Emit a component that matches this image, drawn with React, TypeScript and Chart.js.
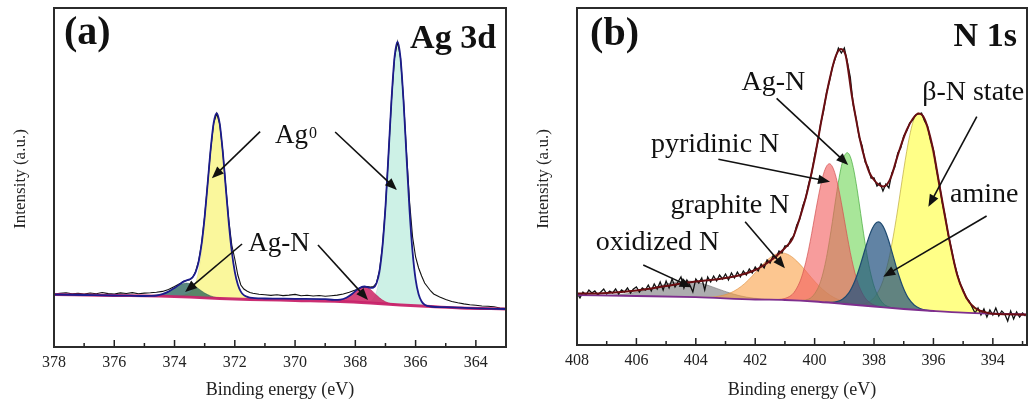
import React, { useEffect, useRef } from 'react';
import { Chart, registerables } from 'chart.js';

Chart.register(...registerables);

type Pt = [number, number];

const SERIF = '"Liberation Serif", "Times New Roman", serif';

// ================= Panel (a) : Ag 3d =================
const agRange: [number, number] = [363, 378];
const agYMax = 339;

const agBaseline: Pt[] = [
  [378, 52.5], [376, 51.5], [374.5, 50.8], [373.5, 49.8], [372.5, 48.5], [371.5, 47.5], [370, 46.5],
  [368.5, 45.5], [367.5, 44], [366.5, 42], [365.5, 40.5], [364.5, 39], [363, 38],
];

const agEnvelope: Pt[] = [
  [378, 52.5], [377, 52], [376, 51.5], [375.5, 51.3], [375, 51.0], [374.8, 51.1], [374.6, 51.5], [374.4, 52.9],
  [374.2, 55.4], [374.0, 59.1], [373.8, 63.3], [373.7, 65.4], [373.6, 66.7], [373.5, 67.6], [373.4, 69.7],
  [373.3, 75], [373.2, 85.3], [373.1, 103.5], [373.0, 130.2], [372.9, 163.8], [372.8, 198], [372.7, 224.3],
  [372.6, 233.9], [372.5, 223.1], [372.4, 195.5], [372.3, 159.7], [372.2, 124.4], [372.1, 95.5], [372.0, 75.1],
  [371.9, 62.5], [371.8, 55.4], [371.7, 51.9], [371.6, 50.4], [371.5, 49.3], [371, 48.5], [370, 48.2],
  [369, 47.8], [368.7, 47.2], [368.5, 47.4], [368.3, 49.2], [368.1, 53.2], [367.9, 58.2], [367.7, 60.5],
  [367.5, 59.1], [367.4, 59.4], [367.3, 63.5], [367.2, 75.5], [367.1, 100.3], [367.0, 139.9], [366.9, 192.1],
  [366.8, 247], [366.7, 289.4], [366.6, 305.2], [366.5, 288.7], [366.4, 245.7], [366.3, 189.8], [366.2, 136.3],
  [366.1, 94.8], [366.0, 67.6], [365.9, 52.7], [365.8, 45.5], [365.7, 42.3], [365.5, 40.5], [365, 39.8],
  [364, 38.7], [363, 38],
];

const agRaw: Pt[] = [
  [378.0, 53.0], [377.8, 53.6], [377.6, 54.2], [377.4, 53.1], [377.2, 53.8], [377.0, 52.9], [376.8, 54.0],
  [376.6, 53.2], [376.4, 54.5], [376.2, 53.4], [376.0, 53.0], [375.8, 54.1], [375.6, 53.5], [375.4, 54.4],
  [375.2, 53.2], [375.0, 53.9], [374.8, 54.2], [374.6, 54.8], [374.4, 55.6], [374.2, 57.5], [374.0, 60.5],
  [373.8, 63.8], [373.7, 65.8], [373.6, 66.5], [373.5, 67.2], [373.4, 69.5], [373.3, 75.5], [373.2, 86.0],
  [373.1, 104], [373.0, 131], [372.9, 164], [372.8, 198], [372.7, 224], [372.6, 233.5], [372.5, 223],
  [372.4, 196], [372.3, 161], [372.2, 127], [372.1, 102], [372.0, 88], [371.9, 72], [371.8, 62], [371.7, 58],
  [371.6, 56], [371.5, 54.5], [371.4, 53.8], [371.2, 52.8], [371.0, 52.2], [370.8, 51.6], [370.6, 52.3],
  [370.4, 51.4], [370.2, 51.9], [370.0, 52.6], [369.8, 51.2], [369.6, 51.7], [369.4, 51.0], [369.2, 51.5],
  [369.0, 50.8], [368.8, 51.3], [368.6, 51.9], [368.4, 53.0], [368.2, 54.8], [368.0, 57.0], [367.8, 59.5],
  [367.6, 60.5], [367.5, 60.0], [367.4, 60.5], [367.3, 64.0], [367.2, 76], [367.1, 101], [367.0, 140],
  [366.9, 192], [366.8, 247], [366.7, 289], [366.6, 305], [366.5, 289], [366.4, 247], [366.3, 194],
  [366.2, 145], [366.1, 110], [366.0, 90], [365.9, 79], [365.8, 71], [365.7, 64], [365.6, 60], [365.5, 56],
  [365.4, 53], [365.2, 50], [365.0, 47.5], [364.8, 45.5], [364.6, 44.2], [364.4, 43.1], [364.2, 42.3],
  [364.0, 41.8], [363.8, 41.0], [363.6, 40.8], [363.4, 40.2], [363.2, 39.0], [363.0, 38.5],
];

// Ag0 3d3/2 component
const agPeakAg0a: Pt[] = [
  [373.9, 50.3], [373.7, 51.8], [373.6, 52.7], [373.5, 54], [373.4, 57.2], [373.3, 64.1], [373.2, 76.4],
  [373.1, 96.6], [373.0, 125.2], [372.9, 160.3], [372.8, 195.7], [372.7, 222.9], [372.6, 233.1], [372.5, 222.7],
  [372.4, 195.3], [372.3, 159.7], [372.2, 124.4], [372.1, 95.5], [372.0, 75.1], [371.9, 62.5], [371.8, 55.4],
  [371.7, 51.9], [371.6, 50.4], [371.5, 49.3], [371.4, 47.5],
];
// Ag0 3d5/2 component
const agPeakAg0b: Pt[] = [
  [367.6, 44.3], [367.5, 45.5], [367.4, 48.3], [367.3, 55.2], [367.2, 69.7], [367.1, 96.6], [367.0, 137.7],
  [366.9, 190.9], [366.8, 246.4], [366.7, 289.1], [366.6, 305.2], [366.5, 288.7], [366.4, 245.7], [366.3, 189.8],
  [366.2, 136.3], [366.1, 94.8], [366.0, 67.6], [365.9, 52.7], [365.8, 45.5], [365.7, 42.3], [365.6, 40.8],
];
// Ag-N components
const agPeakAgNa: Pt[] = [
  [374.9, 51.0], [374.6, 51.5], [374.4, 52.9], [374.2, 55.4], [374.0, 59.1], [373.8, 62.5], [373.6, 63.9],
  [373.4, 62.1], [373.2, 58.2], [373.0, 54.0], [372.8, 51.1], [372.6, 49.4], [372.3, 48.2],
];
const agPeakAgNb: Pt[] = [
  [368.8, 45.7], [368.7, 45.8], [368.5, 46.6], [368.3, 48.9], [368.1, 53.2], [367.9, 58.2], [367.7, 60.4],
  [367.5, 57.6], [367.3, 51.9], [367.1, 46.9], [366.9, 44.0], [366.7, 42.7], [366.5, 42.1],
];

const agLabelText = ['Ag', 'Ag-N', '(a)', 'Ag 3d'];
const agLabelSup = ['0', '', '', ''];
const agLabelPos: Pt[] = [[369.97, 204], [370.53, 96], [377.67, 303], [363.33, 299]];
const agArrows: [number, number, number, number][] = [
  [371.16, 215.3, 372.76, 168.7],
  [368.67, 215, 366.62, 157],
  [371.76, 103, 373.65, 55],
  [369.24, 102, 367.58, 47],
];

// ================= Panel (b) : N 1s =================
const nRange: [number, number] = [392.85, 408];
const nYMax = 337;

const nBaseline: Pt[] = [
  [408, 50], [406, 49], [404, 47.8], [402, 45.5], [401, 45], [400, 43.5], [399, 41], [398, 38.5],
  [397, 36], [396, 34], [395, 32.3], [394, 31.3], [392.85, 30.5],
];

const nEnvelope: Pt[] = [
  [408.0, 51.5], [407.5, 51.5], [407.0, 52.0], [406.5, 53.0], [406.0, 54.5], [405.5, 56.5], [405.0, 59.0],
  [404.5, 61.5], [404.0, 63.5], [403.5, 65.0], [403.0, 67.0], [402.5, 70.0], [402.0, 75.0], [401.75, 79.0],
  [401.5, 84.0], [401.25, 90.0], [401.0, 97.0], [400.75, 106.0], [400.5, 127.0], [400.25, 153.0],
  [400.0, 187.0], [399.75, 228.0], [399.5, 265.0], [399.3, 288.0], [399.12, 296.0], [398.95, 289.0],
  [398.75, 250.0], [398.6, 225.0], [398.47, 205.0], [398.3, 185.0], [398.15, 172.0], [398.0, 165.0],
  [397.85, 160.5], [397.69, 158.5], [397.55, 161.0], [397.4, 170.0], [397.29, 181.0], [397.1, 199.0],
  [396.9, 215.0], [396.7, 226.0], [396.5, 231.5], [396.35, 229.0], [396.2, 218.0], [396.0, 194.0],
  [395.8, 160.0], [395.6, 127.0], [395.4, 96.0], [395.2, 70.0], [395.0, 54.0], [394.8, 43.0], [394.6, 37.0],
  [394.4, 34.0], [394.2, 32.3], [394.0, 31.2], [393.5, 30.8], [392.85, 30.3],
];

const nRaw: Pt[] = [
  [408.0, 52], [407.9, 47], [407.8, 53], [407.7, 50], [407.6, 55], [407.5, 52], [407.4, 54], [407.3, 50],
  [407.2, 53], [407.1, 56], [407.0, 51], [406.9, 54], [406.8, 52], [406.7, 56], [406.6, 51], [406.5, 55],
  [406.4, 53], [406.3, 57], [406.2, 52], [406.1, 56], [406.0, 58], [405.9, 53], [405.8, 57], [405.7, 55],
  [405.6, 60], [405.5, 54], [405.4, 61], [405.3, 56], [405.2, 63], [405.1, 55], [405.0, 64], [404.9, 57],
  [404.8, 66], [404.7, 58], [404.6, 63], [404.5, 68], [404.4, 57], [404.3, 65], [404.2, 60], [404.1, 53],
  [404.0, 66], [403.9, 62], [403.8, 67], [403.7, 55], [403.6, 68], [403.5, 63], [403.4, 69], [403.3, 64],
  [403.2, 70], [403.1, 66], [403.0, 71], [402.9, 65], [402.8, 72], [402.7, 67], [402.6, 73], [402.5, 68],
  [402.4, 74], [402.3, 70], [402.2, 76], [402.1, 72], [402.0, 78], [401.9, 74], [401.8, 81], [401.7, 77],
  [401.6, 85], [401.5, 82], [401.4, 89], [401.3, 87], [401.2, 94], [401.1, 92], [401.0, 99], [400.9, 99],
  [400.8, 106], [400.7, 109], [400.6, 120], [400.5, 126], [400.4, 139], [400.3, 147], [400.2, 161],
  [400.1, 172], [400.0, 189], [399.9, 202], [399.8, 221], [399.7, 234], [399.6, 252], [399.5, 264],
  [399.4, 278], [399.3, 287], [399.2, 297], [399.1, 292], [399.0, 297], [398.9, 283], [398.8, 268],
  [398.7, 240], [398.6, 226], [398.5, 208], [398.4, 199], [398.3, 183], [398.2, 178], [398.1, 167],
  [398.0, 167], [397.9, 159], [397.8, 162], [397.7, 154], [397.6, 161], [397.5, 157], [397.4, 172],
  [397.3, 178], [397.2, 192], [397.1, 197], [397.0, 209], [396.9, 214], [396.8, 222], [396.7, 225],
  [396.6, 230], [396.5, 231], [396.4, 232], [396.3, 224], [396.2, 219], [396.1, 205], [396.0, 195],
  [395.9, 176], [395.8, 161], [395.7, 142], [395.6, 128], [395.5, 110], [395.4, 97], [395.3, 82], [395.2, 71],
  [395.1, 61], [395.0, 55], [394.9, 47], [394.8, 44], [394.7, 38], [394.6, 32], [394.5, 37], [394.4, 30],
  [394.3, 36], [394.2, 28], [394.1, 35], [394.0, 30], [393.9, 37], [393.8, 29], [393.7, 34], [393.6, 31],
  [393.5, 24], [393.4, 34], [393.3, 26], [393.2, 33], [393.1, 28], [393.0, 32], [392.9, 29],
];

const nOxidized: Pt[] = [
  [407.3, 49.8], [406.8, 50.1], [406.3, 51.3], [405.8, 54.1], [405.3, 58.3], [404.8, 62.4], [404.3, 64],
  [403.8, 61.6], [403.3, 56.6], [402.8, 51.5], [402.3, 47.9], [401.8, 46.1], [401.3, 45.4],
];
const nGraphite: Pt[] = [
  [404.1, 47.8], [403.6, 47.7], [403.1, 49.6], [402.85, 51.9], [402.6, 55.9], [402.35, 61.6], [402.1, 69],
  [401.85, 77.3], [401.6, 84.8], [401.35, 90.2], [401.1, 92.1], [400.85, 89.8], [400.6, 83.9], [400.35, 75.9],
  [400.1, 67.1], [399.85, 59], [399.6, 52.4], [399.35, 47.5], [399.1, 44.3], [398.6, 40.6], [398.1, 38.9],
];
const nPyridinic: Pt[] = [
  [401.3, 45.4], [401.1, 45.9], [400.9, 47.7], [400.7, 52.3], [400.5, 63.0], [400.4, 71.6], [400.3, 82.5],
  [400.2, 95.8], [400.1, 111.3], [400.0, 127.9], [399.9, 144.2], [399.8, 159.1], [399.7, 171.1], [399.6, 178.7],
  [399.5, 181.3], [399.4, 178.2], [399.3, 170.1], [399.2, 157.6], [399.1, 142.2], [399.0, 125.4], [398.9, 108.5],
  [398.8, 92.6], [398.7, 78.9], [398.6, 67.5], [398.5, 58.6], [398.3, 47.1], [398.1, 41.6], [397.9, 39.1],
  [397.7, 37.7],
];
const nAgN: Pt[] = [
  [400.5, 44.5], [400.3, 45.1], [400.1, 47.8], [399.9, 56.2], [399.8, 63.5], [399.7, 74], [399.6, 87.6],
  [399.5, 104.6], [399.4, 123.7], [399.3, 143.9], [399.2, 162.9], [399.1, 178.6], [399.0, 188.9], [398.9, 192.3],
  [398.8, 188.4], [398.7, 177.6], [398.6, 161.4], [398.5, 141.9], [398.4, 121.2], [398.3, 101.6], [398.2, 84.1],
  [398.1, 70], [398.0, 59], [397.9, 51.2], [397.7, 41.7], [397.5, 38.2], [397.3, 36.9],
];
const nAmine: Pt[] = [
  [399.65, 42.7], [399.45, 42.7], [399.25, 43.3], [399.05, 45.9], [398.85, 52.1], [398.75, 57.2], [398.65, 63.7],
  [398.55, 71.8], [398.45, 81], [398.35, 91], [398.25, 100.8], [398.15, 109.9], [398.05, 117.1], [397.95, 121.7],
  [397.85, 123.1], [397.75, 121.1], [397.65, 115.9], [397.55, 108.2], [397.45, 98.7], [397.35, 88.3],
  [397.25, 77.9], [397.15, 68.2], [397.05, 59.7], [396.95, 52.7], [396.85, 47.1], [396.65, 40], [396.45, 36.5],
  [396.25, 34.9], [396.05, 34.1],
];
const nBetaN: Pt[] = [
  [398.7, 40.5], [398.5, 40.6], [398.3, 41.5], [398.1, 44.5], [397.9, 51.3], [397.7, 64.1], [397.5, 86.1],
  [397.4, 100.8], [397.3, 117.6], [397.2, 136.1], [397.1, 155.8], [397.0, 175.3], [396.9, 193.6], [396.8, 209.4],
  [396.7, 221.8], [396.6, 229.4], [396.5, 232], [396.4, 229.8], [396.3, 224.1], [396.2, 215], [396.1, 203],
  [396.0, 188.8], [395.9, 173.1], [395.8, 156.4], [395.7, 139.7], [395.6, 123.5], [395.5, 108.2], [395.3, 81.9],
  [395.1, 62.2], [394.9, 48.8], [394.7, 40.5], [394.5, 35.7], [394.3, 33.3], [394.1, 32],
];

const nLabelText = ['(b)', 'N 1s', 'Ag-N', '\u03B2-N state', 'pyridinic N', 'graphite N', 'amine', 'oxidized N'];
const nLabelPos: Pt[] = [
  [407.56, 300], [393.19, 299], [401.39, 255], [394.66, 245], [403.35, 193], [402.85, 132], [394.29, 142.7], [405.29, 95],
];
const nArrows: [number, number, number, number][] = [
  [401.28, 246.7, 398.87, 180],
  [403.24, 185.7, 399.48, 163.3],
  [402.34, 123.3, 401.0, 76.7],
  [405.77, 80, 404.14, 57.7],
  [394.54, 228.3, 396.17, 138.3],
  [394.21, 129, 397.69, 68.3],
];

const xTitle = 'Binding energy (eV)';
const yTitle = 'Intensity (a.u.)';

// ================= helpers =================
const toPts = (arr: Pt[]) => arr.map(([x, y]) => ({ x, y }));

function drawArrow(ctx: CanvasRenderingContext2D, x1: number, y1: number, x2: number, y2: number) {
  const ang = Math.atan2(y2 - y1, x2 - x1);
  const L = 12;
  const W = 4.8;
  const bx = x2 - L * Math.cos(ang);
  const by = y2 - L * Math.sin(ang);
  ctx.beginPath();
  ctx.moveTo(x1, y1);
  ctx.lineTo(bx + 2 * Math.cos(ang), by + 2 * Math.sin(ang));
  ctx.stroke();
  ctx.beginPath();
  ctx.moveTo(x2, y2);
  ctx.lineTo(bx + W * Math.sin(ang), by - W * Math.cos(ang));
  ctx.lineTo(bx - W * Math.sin(ang), by + W * Math.cos(ang));
  ctx.closePath();
  ctx.fill();
}

type LabelSpec = { text: string; sup?: string; pos: Pt; font: string; align: CanvasTextAlign };

function decoPlugin(labels: LabelSpec[], arrows: [number, number, number, number][]) {
  return {
    id: 'deco',
    afterDraw(chart: any) {
      const ctx: CanvasRenderingContext2D = chart.ctx;
      const a = chart.chartArea;
      const xs = chart.scales.x;
      const ys = chart.scales.y;
      ctx.save();
      // tick marks (inside, from the bottom edge)
      ctx.strokeStyle = '#222';
      ctx.lineWidth = 1.5;
      xs.ticks.forEach((t: any) => {
        const v = t.value;
        if (Math.abs(v - Math.round(v)) > 1e-6) return;
        const px = xs.getPixelForValue(v);
        const len = Math.round(v) % 2 === 0 ? 7 : 4;
        ctx.beginPath();
        ctx.moveTo(px, a.bottom);
        ctx.lineTo(px, a.bottom - len);
        ctx.stroke();
      });
      // frame
      ctx.lineWidth = 2;
      ctx.strokeStyle = '#2b2b2b';
      ctx.strokeRect(a.left, a.top, a.right - a.left, a.bottom - a.top);
      // axis titles
      ctx.fillStyle = '#222';
      ctx.font = `18px ${SERIF}`;
      ctx.textAlign = 'center';
      ctx.textBaseline = 'alphabetic';
      ctx.fillText(xTitle, (a.left + a.right) / 2, 394.5);
      ctx.save();
      ctx.translate(a.left - 33, 179);
      ctx.rotate(-Math.PI / 2);
      ctx.font = `17px ${SERIF}`;
      ctx.textBaseline = 'middle';
      ctx.fillText(yTitle, 0, 0);
      ctx.restore();
      // arrows
      ctx.strokeStyle = '#111';
      ctx.fillStyle = '#111';
      ctx.lineWidth = 1.6;
      arrows.forEach(([e1, v1, e2, v2]) => {
        drawArrow(ctx, xs.getPixelForValue(e1), ys.getPixelForValue(v1), xs.getPixelForValue(e2), ys.getPixelForValue(v2));
      });
      // labels
      ctx.textBaseline = 'alphabetic';
      labels.forEach((l) => {
        const px = xs.getPixelForValue(l.pos[0]);
        const py = ys.getPixelForValue(l.pos[1]);
        ctx.font = l.font;
        const w = ctx.measureText(l.text).width;
        if (l.sup) {
          const supFont = `16px ${SERIF}`;
          ctx.font = supFont;
          const ws = ctx.measureText(l.sup).width;
          const start = px - (w + ws + 1) / 2;
          ctx.textAlign = 'left';
          ctx.font = l.font;
          ctx.fillText(l.text, start, py);
          ctx.font = supFont;
          ctx.fillText(l.sup, start + w + 1, py - 5.5);
        } else {
          ctx.textAlign = l.align;
          ctx.fillText(l.text, px, py);
        }
      });
      ctx.restore();
    },
  };
}

function xScale(range: [number, number], height: number) {
  return {
    type: 'linear',
    min: range[0],
    max: range[1],
    reverse: true,
    afterFit: (s: any) => {
      s.height = height;
    },
    grid: { display: false, drawTicks: false },
    border: { display: false },
    ticks: {
      stepSize: 1,
      includeBounds: false,
      autoSkip: false,
      maxRotation: 0,
      padding: 6,
      color: '#222',
      font: { family: SERIF, size: 16 },
      callback: (v: any) => {
        const n = Number(v);
        const r = Math.round(n);
        return Math.abs(n - r) < 1e-6 && r % 2 === 0 ? String(r) : '';
      },
    },
  };
}

const line = (data: Pt[], color: string, width: number, order: number, smooth: boolean) => ({
  data: toPts(data),
  borderColor: color,
  borderWidth: width,
  backgroundColor: 'transparent',
  fill: false,
  pointRadius: 0,
  order,
  ...(smooth ? { cubicInterpolationMode: 'monotone' } : { tension: 0 }),
});

const comp = (data: Pt[], fillColor: string, border: string, bw: number, order: number) => ({
  data: toPts(data),
  borderColor: border,
  borderWidth: bw,
  backgroundColor: fillColor,
  fill: 0,
  pointRadius: 0,
  order,
  cubicInterpolationMode: 'monotone',
});

function configA() {
  const bold40 = `bold 40px ${SERIF}`;
  const bold34 = `bold 34px ${SERIF}`;
  const reg = `27px ${SERIF}`;
  const labels: LabelSpec[] = agLabelText.map((t, i) => ({
    text: t,
    sup: agLabelSup[i] || undefined,
    pos: agLabelPos[i],
    font: i === 2 ? bold40 : i === 3 ? bold34 : reg,
    align: i === 2 ? 'left' : i === 3 ? 'right' : 'center',
  }));
  return {
    type: 'line',
    data: {
      datasets: [
        line(agBaseline, 'rgba(200,35,106,0.95)', 2.8, 1, true),
        line(agEnvelope, '#1c1c8c', 1.8, 0, true),
        line(agRaw, '#111111', 1.1, 2, false),
        comp(agPeakAgNa, 'rgba(35,95,85,0.75)', 'rgba(40,90,80,0.6)', 0.8, 3),
        comp(agPeakAgNb, 'rgba(205,35,100,0.85)', 'rgba(190,30,90,0.8)', 0.8, 4),
        comp(agPeakAg0a, '#faf79c', 'rgba(200,200,100,0.6)', 0.5, 5),
        comp(agPeakAg0b, '#cdf1e6', 'rgba(150,200,190,0.6)', 0.5, 6),
      ],
    },
    options: {
      animation: false,
      responsive: false,
      devicePixelRatio: 1,
      events: [],
      layout: { padding: { left: 54, right: 10, top: 8, bottom: 0 } },
      plugins: { legend: { display: false }, tooltip: { enabled: false } },
      scales: {
        x: xScale(agRange, 58),
        y: { type: 'linear', display: false, min: 0, max: agYMax },
      },
    },
    plugins: [decoPlugin(labels, agArrows)],
  };
}

function configB() {
  const bold40 = `bold 40px ${SERIF}`;
  const bold34 = `bold 34px ${SERIF}`;
  const reg = `28px ${SERIF}`;
  const labels: LabelSpec[] = nLabelText.map((t, i) => ({
    text: t,
    pos: nLabelPos[i],
    font: i === 0 ? bold40 : i === 1 ? bold34 : reg,
    align: i === 0 ? 'left' : i === 1 ? 'right' : 'center',
  }));
  return {
    type: 'line',
    data: {
      datasets: [
        line(nBaseline, '#7e2e8e', 1.8, 1, true),
        line(nEnvelope, '#6a0e12', 2, 0, true),
        line(nRaw, '#111111', 1.3, 2, false),
        comp(nAmine, 'rgba(30,78,125,0.7)', '#1e4a70', 1.2, 3),
        comp(nPyridinic, 'rgba(242,95,95,0.62)', 'rgba(210,80,80,0.7)', 1, 4),
        comp(nAgN, 'rgba(115,215,90,0.62)', 'rgba(70,170,60,0.7)', 1, 5),
        comp(nBetaN, 'rgba(255,255,95,0.75)', 'rgba(190,170,60,0.7)', 1, 6),
        comp(nGraphite, 'rgba(250,160,70,0.6)', 'rgba(220,140,60,0.6)', 1, 7),
        comp(nOxidized, 'rgba(105,105,110,0.55)', 'rgba(90,90,90,0.5)', 1, 8),
      ],
    },
    options: {
      animation: false,
      responsive: false,
      devicePixelRatio: 1,
      events: [],
      layout: { padding: { left: 61, right: 5, top: 8, bottom: 0 } },
      plugins: { legend: { display: false }, tooltip: { enabled: false } },
      scales: {
        x: xScale(nRange, 60),
        y: { type: 'linear', display: false, min: 0, max: nYMax },
      },
    },
    plugins: [decoPlugin(labels, nArrows)],
  };
}

function Panel({ makeConfig, left }: { makeConfig: () => any; left: number }) {
  const ref = useRef<HTMLCanvasElement>(null);
  useEffect(() => {
    const chart = new Chart(ref.current as HTMLCanvasElement, makeConfig());
    return () => chart.destroy();
  }, []);
  return (
    <canvas
      ref={ref}
      width={516}
      height={405}
      style={{ position: 'absolute', left, top: 0, width: 516, height: 405, display: 'block' }}
    />
  );
}

export default function App() {
  useEffect(() => {
    document.body.style.margin = '0';
  }, []);
  return (
    <div style={{ position: 'fixed', left: 0, top: 0, width: 1032, height: 405, background: '#ffffff', overflow: 'hidden' }}>
      <Panel makeConfig={configA} left={0} />
      <Panel makeConfig={configB} left={516} />
    </div>
  );
}
